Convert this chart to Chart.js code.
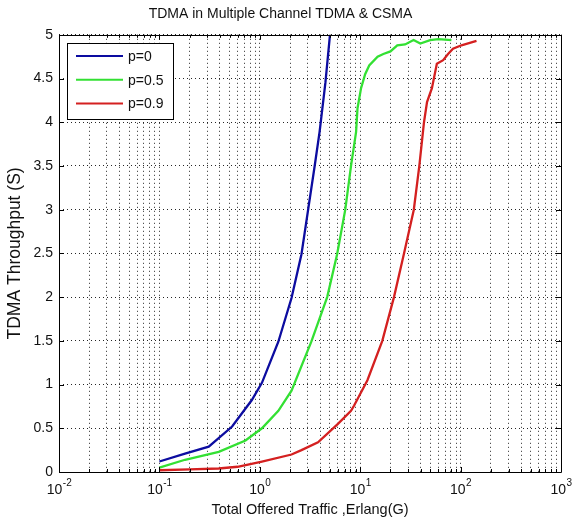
<!DOCTYPE html>
<html>
<head>
<meta charset="utf-8">
<script src="https://cdn.jsdelivr.net/npm/chart.js@4.4.1/dist/chart.umd.min.js"></script>
<style>
  html, body { margin: 0; padding: 0; background: #fff; }
  #wrap { width: 573px; height: 526px; }
</style>
</head>
<body>
<div id="wrap"><canvas id="tdmaChart" width="573" height="526"></canvas></div>
<script>
// Offered traffic G (Erlang) and throughput S
const g_p0 = [0.1, 0.18, 0.31, 0.53, 0.83, 1.05, 1.53, 2.07, 2.6, 3.03, 3.52, 3.94, 4.5, 5.0];
const s_p0 = [0.12, 0.21, 0.29, 0.52, 0.82, 1.02, 1.49, 1.99, 2.49, 3.0, 3.5, 3.89, 4.45, 5.0];

const g_p05 = [0.1, 0.18, 0.39, 0.72, 1.05, 1.53, 2.07, 3.26, 4.69, 5.89, 7.1, 8.1, 9.1, 9.4, 10.2, 11.2, 12.3, 14.9, 17, 20, 23.4, 28, 34, 39.7, 49.7, 60, 81];
const s_p05 = [0.05, 0.14, 0.23, 0.36, 0.5, 0.7, 0.93, 1.49, 2.0, 2.49, 3.0, 3.5, 3.89, 4.16, 4.39, 4.55, 4.65, 4.75, 4.78, 4.81, 4.88, 4.89, 4.94, 4.9, 4.94, 4.95, 4.94];

const g_p09 = [0.1, 0.2, 0.39, 0.6, 1.05, 2.07, 2.6, 3.8, 6.0, 8.1, 8.7, 11.8, 16.6, 21.7, 27.2, 34.2, 38.8, 43.2, 46.3, 51.8, 58, 67, 75, 84, 102, 144];
const s_p09 = [0.02, 0.03, 0.04, 0.06, 0.12, 0.2, 0.25, 0.34, 0.55, 0.7, 0.76, 1.05, 1.5, 2.0, 2.49, 3.0, 3.5, 4.0, 4.23, 4.39, 4.67, 4.71, 4.78, 4.84, 4.88, 4.93];

const seriesLabels = ['p=0', 'p=0.5', 'p=0.9'];
const seriesColors = ['#0c0ca0', '#33e033', '#d42020'];

// log axis: decades 10^-2 .. 10^3, labels drawn as 10 with a raised exponent
const xDecades = [-2, -1, 0, 1, 2, 3];
const xExponentLabels = ['-2', '-1', '0', '1', '2', '3'];
const yMin = 0, yMax = 5, yStep = 0.5;

const xTickValues = [];
xDecades.forEach((d, i) => {
  if (i === xDecades.length - 1) { xTickValues.push(Math.pow(10, d)); return; }
  for (let m = 1; m <= 9; m++) xTickValues.push(Number((m * Math.pow(10, d)).toPrecision(6)));
});

function isDecade(v) {
  const e = Math.log10(v);
  return Math.abs(e - Math.round(e)) < 1e-6;
}

function toPoints(gs, ss) {
  return gs.map((g, i) => ({ x: g, y: ss[i] }));
}

const FONT = "'Liberation Sans', Arial, sans-serif";

// frame, inward ticks, power-of-ten labels and boxed legend like the matlab figure
const matlabFrame = {
  id: 'matlabFrame',
  afterDatasetsDraw(chart) {
    const { ctx, chartArea: a, scales } = chart;
    ctx.save();
    ctx.strokeStyle = '#000';
    ctx.lineWidth = 1;
    ctx.setLineDash([]);
    ctx.beginPath();
    ctx.rect(Math.round(a.left) + 0.5, Math.round(a.top) + 0.5, Math.round(a.right - a.left), Math.round(a.bottom - a.top));
    ctx.stroke();

    ctx.beginPath();
    scales.x.ticks.forEach(t => {
      const px = Math.round(scales.x.getPixelForValue(t.value)) + 0.5;
      const len = isDecade(t.value) ? 5 : 3;
      ctx.moveTo(px, a.bottom); ctx.lineTo(px, a.bottom - len);
      ctx.moveTo(px, a.top); ctx.lineTo(px, a.top + len);
    });
    scales.y.ticks.forEach(t => {
      const py = Math.round(scales.y.getPixelForValue(t.value)) + 0.5;
      ctx.moveTo(a.left, py); ctx.lineTo(a.left + 5, py);
      ctx.moveTo(a.right, py); ctx.lineTo(a.right - 5, py);
    });
    ctx.stroke();

    // x tick labels: "10" plus superscript exponent
    ctx.fillStyle = '#111';
    ctx.textBaseline = 'alphabetic';
    scales.x.ticks.forEach(t => {
      if (!isDecade(t.value)) return;
      const exp = xExponentLabels[xDecades.indexOf(Math.round(Math.log10(t.value)))];
      const px = scales.x.getPixelForValue(t.value);
      ctx.font = '14px ' + FONT;
      const wBase = ctx.measureText('10').width;
      ctx.font = '10px ' + FONT;
      const wExp = ctx.measureText(exp).width;
      const x0 = px - (wBase + wExp) / 2;
      ctx.font = '14px ' + FONT;
      ctx.textAlign = 'left';
      ctx.fillText('10', x0, a.bottom + 22);
      ctx.font = '10px ' + FONT;
      ctx.fillText(exp, x0 + wBase + 0.5, a.bottom + 14);
    });
    ctx.restore();
  },
  afterDraw(chart) {
    const { ctx } = chart;
    const bx = 67, by = 43, bw = 106, bh = 76;
    ctx.save();
    ctx.fillStyle = '#fff';
    ctx.fillRect(bx, by, bw, bh);
    ctx.strokeStyle = '#000';
    ctx.lineWidth = 1;
    ctx.strokeRect(bx + 0.5, by + 0.5, bw, bh);
    ctx.font = '14px ' + FONT;
    ctx.textBaseline = 'middle';
    ctx.textAlign = 'left';
    chart.data.datasets.forEach((ds, i) => {
      const y = 56 + i * 23.7;
      ctx.strokeStyle = ds.borderColor;
      ctx.lineWidth = 2;
      ctx.beginPath();
      ctx.moveTo(76, y); ctx.lineTo(123, y);
      ctx.stroke();
      ctx.fillStyle = '#111';
      ctx.fillText(ds.label, 128, y + 1);
    });
    ctx.restore();
  }
};

const datasets = [
  { label: seriesLabels[0], data: toPoints(g_p0, s_p0) },
  { label: seriesLabels[1], data: toPoints(g_p05, s_p05) },
  { label: seriesLabels[2], data: toPoints(g_p09, s_p09) }
].map((d, i) => Object.assign(d, {
  borderColor: seriesColors[i],
  backgroundColor: seriesColors[i],
  borderWidth: 2.3,
  pointRadius: 0,
  tension: 0,
  fill: false
}));

new Chart(document.getElementById('tdmaChart').getContext('2d'), {
  type: 'line',
  data: { datasets: datasets },
  options: {
    responsive: false,
    animation: false,
    devicePixelRatio: 1,
    layout: { padding: { left: 0, right: 12, top: 0, bottom: 0 } },
    plugins: {
      legend: { display: false },
      tooltip: { enabled: false },
      title: {
        display: true,
        text: 'TDMA in Multiple Channel TDMA & CSMA',
        color: '#111',
        font: { family: FONT, size: 14, weight: 'normal' },
        padding: { top: 6, bottom: 12 }
      }
    },
    scales: {
      x: {
        type: 'logarithmic',
        min: 0.01,
        max: 1000,
        afterBuildTicks: scale => { scale.ticks = xTickValues.map(v => ({ value: v })); },
        afterFit: scale => { scale.height = 54; },
        ticks: {
          autoSkip: false,
          maxRotation: 0,
          padding: 7,
          font: { family: FONT, size: 14 },
          callback: () => ''
        },
        grid: { color: 'rgba(0,0,0,0.85)', lineWidth: 1, drawTicks: false },
        border: { display: false, dash: [1, 3] },
        title: {
          display: true,
          text: 'Total Offered Traffic ,Erlang(G)',
          color: '#111',
          font: { family: FONT, size: 14.5 },
          padding: { top: 0, bottom: 7 }
        }
      },
      y: {
        min: yMin,
        max: yMax,
        afterFit: scale => { scale.width = 59; },
        ticks: {
          stepSize: yStep,
          padding: 6,
          color: '#111',
          font: { family: FONT, size: 14 },
          callback: v => String(v)
        },
        grid: { color: 'rgba(0,0,0,0.85)', lineWidth: 1, drawTicks: false },
        border: { display: false, dash: [1, 3] },
        title: {
          display: true,
          text: 'TDMA Throughput (S)',
          color: '#111',
          font: { family: FONT, size: 17.5 },
          padding: { top: 5, bottom: 0 }
        }
      }
    }
  },
  plugins: [matlabFrame]
});
</script>
</body>
</html>
